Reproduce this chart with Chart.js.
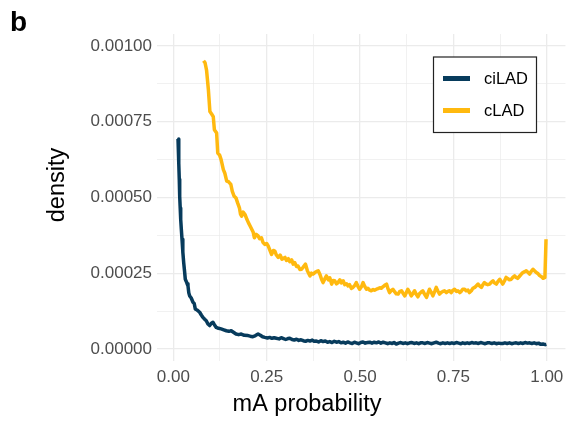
<!DOCTYPE html>
<html>
<head>
<meta charset="utf-8">
<script src="https://cdn.jsdelivr.net/npm/chart.js@4/dist/chart.umd.min.js"></script>
<style>
  body { margin: 0; background: #fff; }
  #wrap { width: 570px; height: 421px; position: relative; }
</style>
</head>
<body>
<div id="wrap"><canvas id="densityChart" width="570" height="421"></canvas></div>
<script>
// axis text
const panelTag = "b";
const xTitle = "mA probability";
const yTitle = "density";

// tick positions (major get labels, minor only a grid line)
const xMajor = [0, 0.25, 0.5, 0.75, 1];
const xMinor = [0.125, 0.375, 0.625, 0.875];
const yMajor = [0, 0.00025, 0.0005, 0.00075, 0.001];
const yMinor = [0.000125, 0.000375, 0.000625, 0.000875];

// ciLAD density curve
const cilad_x = [
  0.0126, 0.014, 0.0152, 0.016, 0.0171, 0.0185, 0.0198, 0.0215, 0.0233, 0.0255,
  0.0278, 0.03, 0.0321, 0.035, 0.037, 0.0393, 0.0415, 0.0439, 0.048, 0.0527,
  0.056, 0.0588, 0.064, 0.0706, 0.075, 0.0794, 0.084, 0.0882, 0.093, 0.0973,
  0.102, 0.106, 0.11, 0.115, 0.121, 0.128, 0.135, 0.142, 0.149, 0.155,
  0.162, 0.168, 0.175, 0.182, 0.19, 0.2, 0.206, 0.213, 0.22, 0.227,
  0.233, 0.239, 0.245, 0.252, 0.258, 0.264, 0.27, 0.276, 0.283, 0.289,
  0.295, 0.301, 0.307, 0.312, 0.318, 0.324, 0.33, 0.336, 0.342, 0.348,
  0.354, 0.36, 0.366, 0.372, 0.377, 0.383, 0.389, 0.395, 0.401, 0.407,
  0.413, 0.419, 0.425, 0.431, 0.437, 0.443, 0.449, 0.455, 0.461, 0.467,
  0.473, 0.479, 0.485, 0.49, 0.496, 0.502, 0.508, 0.514, 0.52, 0.526,
  0.532, 0.538, 0.544, 0.55, 0.556, 0.562, 0.568, 0.574, 0.58, 0.586,
  0.591, 0.597, 0.603, 0.609, 0.615, 0.621, 0.627, 0.633, 0.639, 0.645,
  0.651, 0.657, 0.662, 0.668, 0.674, 0.68, 0.686, 0.692, 0.698, 0.704,
  0.71, 0.716, 0.722, 0.728, 0.734, 0.74, 0.746, 0.752, 0.758, 0.764,
  0.77, 0.775, 0.781, 0.787, 0.793, 0.799, 0.805, 0.811, 0.817, 0.823,
  0.829, 0.835, 0.841, 0.847, 0.853, 0.859, 0.865, 0.871, 0.877, 0.882,
  0.888, 0.894, 0.9, 0.906, 0.912, 0.918, 0.924, 0.93, 0.936, 0.942,
  0.948, 0.954, 0.96, 0.966, 0.972, 0.978, 0.984, 0.99, 0.996, 0.999
];
const cilad_y = [
  0.000693, 0.00065, 0.000614, 0.00056, 0.000504, 0.000465, 0.000428, 0.000395, 0.000362, 0.00032,
  0.000285, 0.000258, 0.00023, 0.000222, 0.000215, 0.000208, 0.000185, 0.000175, 0.000168, 0.000154,
  0.00015, 0.000132, 0.000128, 0.000121, 0.000112, 0.000104, 0.000098, 0.000093, 0.000082, 0.000077,
  0.000085, 0.000088, 0.00008, 0.000071, 0.000068, 0.000066, 0.000063, 0.00006, 0.000058, 0.00006,
  0.000054, 0.000049, 0.000047, 0.000049, 0.000045, 0.000044, 0.000042, 0.00004, 0.000044, 0.000049,
  0.000045, 0.00004, 0.000038, 0.000036, 0.000038, 0.000035, 0.000037, 0.000035, 0.000033, 0.000037,
  0.000034, 0.000031, 0.000034, 0.000035, 0.000031, 0.000029, 0.000032, 0.000028, 0.00003, 0.000027,
  0.000025, 0.000028, 0.000026, 0.000029, 0.000025, 0.000026, 0.000023, 0.000027, 0.000024, 0.000026,
  0.000022, 0.000024, 0.000021, 0.000025, 0.000022, 0.000024, 0.00002, 0.000022, 0.000019, 0.000023,
  0.00002, 0.000018, 0.000022, 0.00002, 0.000017, 0.000021, 0.000023, 0.000019, 0.000021, 0.000022,
  0.000019, 0.000022, 0.00002, 0.000023, 0.000019, 0.000022, 0.00002, 0.000017, 0.00002, 0.000018,
  0.000021, 0.000016, 0.000019, 0.000021, 0.000018, 0.00002, 0.000017, 0.00002, 0.000021, 0.000018,
  0.00002, 0.000017, 0.00002, 0.00002, 0.000018, 0.000021, 0.000019, 0.000017, 0.00002, 0.000022,
  0.000019, 0.000017, 0.00002, 0.000018, 0.00002, 0.000018, 0.00002, 0.000018, 0.000021, 0.000019,
  0.000017, 0.00002, 0.000018, 0.00002, 0.000018, 0.000021, 0.000019, 0.00002, 0.000018, 0.000021,
  0.000019, 0.000017, 0.00002, 0.00002, 0.000018, 0.00002, 0.000017, 0.000019, 0.000018, 0.000018,
  0.00002, 0.000018, 0.00002, 0.000017, 0.000019, 0.00002, 0.000018, 0.00002, 0.000018, 0.000021,
  0.000019, 0.00002, 0.000018, 0.00002, 0.000017, 0.000019, 0.000015, 0.000016, 0.000014, 0.000015
];

// cLAD density curve
const clad_x = [
  0.081, 0.085, 0.089, 0.094, 0.098, 0.103, 0.107, 0.11, 0.116, 0.119,
  0.124, 0.128, 0.134, 0.138, 0.143, 0.148, 0.154, 0.158, 0.163, 0.168,
  0.172, 0.177, 0.18, 0.183, 0.187, 0.192, 0.197, 0.201, 0.206, 0.21,
  0.214, 0.217, 0.222, 0.227, 0.231, 0.236, 0.24, 0.245, 0.25, 0.254,
  0.258, 0.263, 0.268, 0.272, 0.276, 0.281, 0.286, 0.291, 0.296, 0.299,
  0.303, 0.308, 0.312, 0.317, 0.321, 0.325, 0.33, 0.334, 0.339, 0.343,
  0.348, 0.354, 0.359, 0.366, 0.37, 0.374, 0.379, 0.384, 0.388, 0.393,
  0.397, 0.401, 0.406, 0.41, 0.415, 0.419, 0.424, 0.428, 0.432, 0.437,
  0.441, 0.446, 0.45, 0.455, 0.459, 0.464, 0.468, 0.472, 0.477, 0.481,
  0.486, 0.49, 0.495, 0.499, 0.504, 0.508, 0.512, 0.517, 0.521, 0.526,
  0.53, 0.535, 0.539, 0.544, 0.548, 0.553, 0.557, 0.562, 0.566, 0.571,
  0.575, 0.579, 0.584, 0.588, 0.593, 0.597, 0.602, 0.606, 0.611, 0.615,
  0.62, 0.624, 0.628, 0.633, 0.637, 0.642, 0.646, 0.65, 0.655, 0.659,
  0.664, 0.668, 0.673, 0.678, 0.682, 0.686, 0.691, 0.695, 0.7, 0.704,
  0.708, 0.713, 0.717, 0.722, 0.726, 0.731, 0.735, 0.74, 0.744, 0.749,
  0.753, 0.758, 0.762, 0.767, 0.771, 0.775, 0.78, 0.784, 0.789, 0.793,
  0.798, 0.802, 0.807, 0.811, 0.816, 0.82, 0.825, 0.829, 0.833, 0.838,
  0.842, 0.847, 0.851, 0.856, 0.86, 0.865, 0.869, 0.874, 0.878, 0.882,
  0.887, 0.891, 0.896, 0.9, 0.905, 0.909, 0.914, 0.918, 0.922, 0.927,
  0.932, 0.936, 0.941, 0.945, 0.95, 0.954, 0.958, 0.963, 0.967, 0.972,
  0.977, 0.981, 0.986, 0.99, 0.995, 0.998
];
const clad_y = [
  0.000952, 0.000945, 0.000921, 0.000855, 0.000784, 0.000775, 0.000767, 0.000724, 0.000713, 0.000647,
  0.00064, 0.000625, 0.000592, 0.00058, 0.000554, 0.000552, 0.000543, 0.00052, 0.000504, 0.000498,
  0.000483, 0.000466, 0.000445, 0.000438, 0.000452, 0.000444, 0.000428, 0.000417, 0.000405, 0.000395,
  0.000385, 0.000367, 0.000378, 0.000373, 0.000364, 0.000367, 0.000352, 0.000345, 0.000348, 0.00034,
  0.000328, 0.000312, 0.000325, 0.000323, 0.00031, 0.000302, 0.00031, 0.000296, 0.0003, 0.000302,
  0.000292, 0.000298, 0.000288, 0.000294, 0.00028, 0.000285, 0.000272, 0.000274, 0.000262, 0.000263,
  0.00027, 0.00028, 0.000258, 0.000241, 0.00025, 0.000247, 0.000252, 0.000256, 0.000258, 0.000245,
  0.00023, 0.000219, 0.000232, 0.000241, 0.000228, 0.000235, 0.000214, 0.000226, 0.000225, 0.000215,
  0.000219, 0.000228, 0.000218, 0.000225, 0.000212, 0.000215, 0.000208, 0.000212, 0.0002, 0.000203,
  0.00021, 0.000219, 0.000205, 0.000197, 0.000206, 0.000219, 0.000208, 0.000197, 0.0002, 0.000194,
  0.000192, 0.000196, 0.000194, 0.000197, 0.000199, 0.000202, 0.0002, 0.000206, 0.00021, 0.000214,
  0.000198, 0.000186, 0.000193, 0.000197, 0.000188, 0.000182, 0.000181, 0.000189, 0.000192, 0.000184,
  0.000175, 0.000186, 0.000197, 0.000186, 0.000175, 0.000184, 0.000192, 0.000181, 0.000172, 0.000182,
  0.000188, 0.000192, 0.00018, 0.00017, 0.000184, 0.000197, 0.000186, 0.000175, 0.00019, 0.000203,
  0.000192, 0.000181, 0.000186, 0.00019, 0.000192, 0.000186, 0.00019, 0.000192, 0.000186, 0.000194,
  0.000197, 0.00019, 0.000192, 0.000186, 0.00019, 0.000197, 0.000197, 0.000192, 0.000194, 0.000186,
  0.000192, 0.0002, 0.000203, 0.000208, 0.000214, 0.000208, 0.000203, 0.000212, 0.000219, 0.000214,
  0.000212, 0.000214, 0.00022, 0.000225, 0.000218, 0.000214, 0.000222, 0.00023, 0.000222, 0.000214,
  0.000225, 0.000236, 0.000232, 0.000228, 0.00023, 0.000236, 0.000241, 0.000236, 0.000233, 0.00024,
  0.000247, 0.000252, 0.000255, 0.000258, 0.000252, 0.000247, 0.000255, 0.000263, 0.000258, 0.000252,
  0.000248, 0.000242, 0.000238, 0.000233, 0.000236, 0.000362
];

const seriesNames = ["ciLAD", "cLAD"];
const seriesColors = ["#073B5C", "#FFB90F"];

const fontFamily = "'Liberation Sans', Arial, Helvetica, sans-serif";

function toPoints(xs, ys) {
  return xs.map((x, i) => ({ x: x, y: ys[i] }));
}

// axis titles, panel tag and the boxed legend are drawn by hand
const decorPlugin = {
  id: "decor",
  afterDraw(chart) {
    const ctx = chart.ctx;
    ctx.save();
    ctx.fillStyle = "#000";

    ctx.font = "bold 28px " + fontFamily;
    ctx.textAlign = "left";
    ctx.textBaseline = "alphabetic";
    ctx.fillText(panelTag, 10, 31);

    ctx.font = "23.5px " + fontFamily;
    ctx.textAlign = "center";
    ctx.textBaseline = "middle";
    ctx.fillText(xTitle, 307, 405);

    ctx.save();
    ctx.translate(58, 185);
    ctx.rotate(-Math.PI / 2);
    ctx.fillText(yTitle, 0, 0);
    ctx.restore();

    // legend box
    const bx = 433.5, by = 57, bw = 103, bh = 75.5;
    ctx.fillStyle = "#fff";
    ctx.fillRect(bx, by, bw, bh);
    ctx.strokeStyle = "#222";
    ctx.lineWidth = 1.2;
    ctx.strokeRect(bx, by, bw, bh);

    ctx.font = "16.5px " + fontFamily;
    ctx.textAlign = "left";
    chart.data.datasets.forEach((ds, i) => {
      const ky = 78.5 + i * 32;
      ctx.strokeStyle = ds.borderColor;
      ctx.lineWidth = 5;
      ctx.beginPath();
      ctx.moveTo(443, ky);
      ctx.lineTo(470, ky);
      ctx.stroke();
      ctx.fillStyle = "#000";
      ctx.fillText(ds.label, 484, ky + 1);
    });
    ctx.restore();
  },
};

const isMajor = (list, v) => list.some((m) => Math.abs(m - v) < 1e-12);

const ctx = document.getElementById("densityChart").getContext("2d");
new Chart(ctx, {
  type: "line",
  data: {
    datasets: [
      {
        label: seriesNames[0],
        data: toPoints(cilad_x, cilad_y),
        borderColor: seriesColors[0],
        borderWidth: 3.5,
        pointRadius: 0,
        tension: 0,
        borderJoinStyle: "round",
      },
      {
        label: seriesNames[1],
        data: toPoints(clad_x, clad_y),
        borderColor: seriesColors[1],
        borderWidth: 3.5,
        pointRadius: 0,
        tension: 0,
        borderJoinStyle: "round",
      },
    ],
  },
  options: {
    responsive: false,
    animation: false,
    layout: { padding: { top: 34, right: 4, left: 0, bottom: 0 } },
    plugins: {
      legend: { display: false },
      tooltip: { enabled: false },
    },
    scales: {
      x: {
        type: "linear",
        min: -0.045,
        max: 1.05,
        border: { display: false },
        afterBuildTicks: (scale) => {
          scale.ticks = xMajor.concat(xMinor).sort((a, b) => a - b).map((v) => ({ value: v }));
        },
        afterFit: (scale) => {
          scale.height = 60;
        },
        grid: {
          drawTicks: false,
          color: "#EBEBEB",
          lineWidth: (c) => (isMajor(xMajor, c.tick.value) ? 1.3 : 0.7),
        },
        ticks: {
          autoSkip: false,
          maxRotation: 0,
          padding: 6.5,
          color: "#4D4D4D",
          font: { family: fontFamily, size: 17 },
          callback: (v) => (isMajor(xMajor, v) ? v.toFixed(2) : ""),
        },
      },
      y: {
        type: "linear",
        min: -0.00004,
        max: 0.00104,
        border: { display: false },
        afterBuildTicks: (scale) => {
          scale.ticks = yMajor.concat(yMinor).sort((a, b) => a - b).map((v) => ({ value: v }));
        },
        afterFit: (scale) => {
          scale.width = 156.5;
        },
        grid: {
          drawTicks: false,
          color: "#EBEBEB",
          lineWidth: (c) => (isMajor(yMajor, c.tick.value) ? 1.3 : 0.7),
        },
        ticks: {
          autoSkip: false,
          padding: 4.5,
          color: "#4D4D4D",
          font: { family: fontFamily, size: 17 },
          callback: (v) => (isMajor(yMajor, v) ? v.toFixed(5) : ""),
        },
      },
    },
  },
  plugins: [decorPlugin],
});
</script>
</body>
</html>
